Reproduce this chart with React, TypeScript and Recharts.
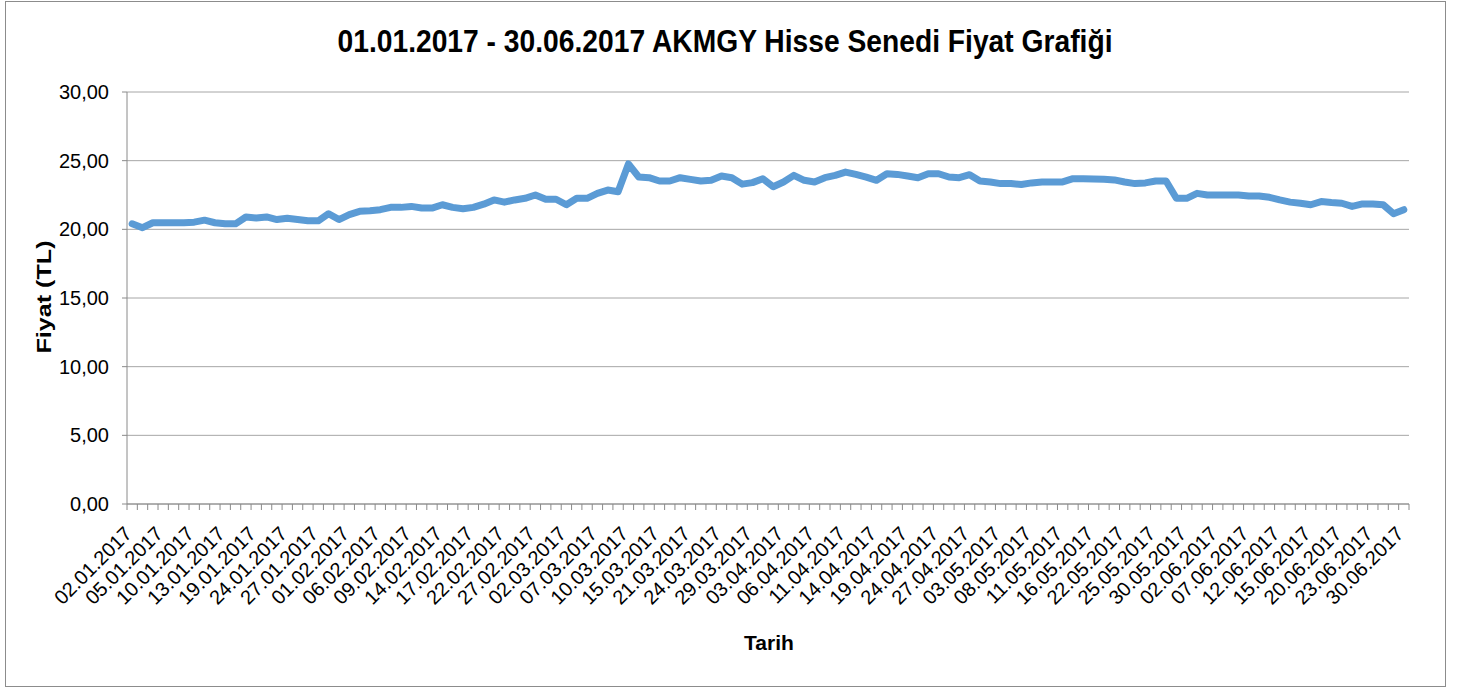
import React from 'react';
import { LineChart, Line, XAxis, YAxis, CartesianGrid } from 'recharts';

const DATES = [
  '02.01.2017', '03.01.2017', '04.01.2017', '05.01.2017', '06.01.2017', '09.01.2017',
  '10.01.2017', '11.01.2017', '12.01.2017', '13.01.2017', '16.01.2017', '17.01.2017',
  '19.01.2017', '20.01.2017', '23.01.2017', '24.01.2017', '25.01.2017', '26.01.2017',
  '27.01.2017', '30.01.2017', '31.01.2017', '01.02.2017', '02.02.2017', '03.02.2017',
  '06.02.2017', '07.02.2017', '08.02.2017', '09.02.2017', '10.02.2017', '13.02.2017',
  '14.02.2017', '15.02.2017', '16.02.2017', '17.02.2017', '20.02.2017', '21.02.2017',
  '22.02.2017', '23.02.2017', '24.02.2017', '27.02.2017', '28.02.2017', '01.03.2017',
  '02.03.2017', '03.03.2017', '06.03.2017', '07.03.2017', '08.03.2017', '09.03.2017',
  '10.03.2017', '13.03.2017', '14.03.2017', '15.03.2017', '16.03.2017', '17.03.2017',
  '21.03.2017', '22.03.2017', '23.03.2017', '24.03.2017', '27.03.2017', '28.03.2017',
  '29.03.2017', '30.03.2017', '31.03.2017', '03.04.2017', '04.04.2017', '05.04.2017',
  '06.04.2017', '07.04.2017', '10.04.2017', '11.04.2017', '12.04.2017', '13.04.2017',
  '14.04.2017', '17.04.2017', '18.04.2017', '19.04.2017', '20.04.2017', '21.04.2017',
  '24.04.2017', '25.04.2017', '26.04.2017', '27.04.2017', '28.04.2017', '02.05.2017',
  '03.05.2017', '04.05.2017', '05.05.2017', '08.05.2017', '09.05.2017', '10.05.2017',
  '11.05.2017', '12.05.2017', '15.05.2017', '16.05.2017', '17.05.2017', '18.05.2017',
  '22.05.2017', '23.05.2017', '24.05.2017', '25.05.2017', '26.05.2017', '29.05.2017',
  '30.05.2017', '31.05.2017', '01.06.2017', '02.06.2017', '05.06.2017', '06.06.2017',
  '07.06.2017', '08.06.2017', '09.06.2017', '12.06.2017', '13.06.2017', '14.06.2017',
  '15.06.2017', '16.06.2017', '19.06.2017', '20.06.2017', '21.06.2017', '22.06.2017',
  '23.06.2017', '28.06.2017', '29.06.2017', '30.06.2017',
];

const PRICES = [
  20.40, 20.12, 20.48, 20.48, 20.48, 20.48, 20.52, 20.67, 20.48, 20.40, 20.40, 20.90,
  20.83, 20.90, 20.71, 20.80, 20.71, 20.62, 20.62, 21.14, 20.71, 21.07, 21.31, 21.36,
  21.43, 21.60, 21.60, 21.67, 21.55, 21.55, 21.79, 21.60, 21.50, 21.60, 21.83, 22.14,
  21.98, 22.14, 22.26, 22.50, 22.19, 22.19, 21.79, 22.26, 22.26, 22.62, 22.86, 22.74,
  24.76, 23.81, 23.76, 23.52, 23.52, 23.76, 23.64, 23.52, 23.57, 23.88, 23.76, 23.29,
  23.40, 23.69, 23.10, 23.45, 23.93, 23.57, 23.45, 23.76, 23.93, 24.17, 24.00, 23.80,
  23.57, 24.05, 24.00, 23.88, 23.76, 24.05, 24.05, 23.81, 23.76, 23.98, 23.52, 23.45,
  23.33, 23.33, 23.26, 23.38, 23.45, 23.45, 23.45, 23.69, 23.69, 23.66, 23.64, 23.60,
  23.45, 23.33, 23.38, 23.52, 23.52, 22.26, 22.26, 22.62, 22.50, 22.50, 22.50, 22.50,
  22.43, 22.43, 22.33, 22.14, 21.98, 21.90, 21.79, 22.02, 21.95, 21.90, 21.67, 21.85,
  21.85, 21.79, 21.14, 21.43,
];

const Y_TICKS = [0, 5, 10, 15, 20, 25, 30];

const data = DATES.map((date, i) => ({ date, price: PRICES[i] }));

const W = 1462;
const H = 687;
const LEFT = 127;
const RIGHT = 53;
const TOP = 92;
const BOTTOM = 183;
const AXIS_Y = H - BOTTOM;
const BAND = (W - LEFT - RIGHT) / DATES.length;
const FONT = "'Liberation Sans', Arial, sans-serif";
const AXIS_GRAY = '#8a8a8a';

const fmt = (v: number) => v.toFixed(2).replace('.', ',');

function DateTick(props: any) {
  const { x, payload } = props;
  const i = payload.index;
  const half = BAND / 2;
  return (
    <g>
      <line x1={x - half} x2={x - half} y1={AXIS_Y} y2={AXIS_Y + 6} stroke={AXIS_GRAY} />
      {i === DATES.length - 1 && (
        <line x1={x + half} x2={x + half} y1={AXIS_Y} y2={AXIS_Y + 6} stroke={AXIS_GRAY} />
      )}
      {i % 3 === 0 && (
        <text
          transform={`translate(${x + 1},${AXIS_Y + 31}) rotate(-45)`}
          textAnchor="end"
          fontSize={20}
          fontFamily={FONT}
          fill="#000"
        >
          {payload.value}
        </text>
      )}
    </g>
  );
}

export default function App() {
  return (
    <div style={{ position: 'absolute', left: 0, top: 0, width: W, height: H, background: '#fff' }}>
      <div
        style={{
          position: 'absolute',
          left: 5,
          top: 1,
          width: 1439,
          height: 684,
          border: '1px solid #8c8c8c',
        }}
      />
      <LineChart
        width={W}
        height={H}
        data={data}
        margin={{ top: TOP, right: RIGHT, left: 0, bottom: 0 }}
        style={{ position: 'absolute', left: 0, top: 0, fontFamily: FONT }}
      >
        <CartesianGrid vertical={false} stroke="#a6a6a6" />
        <XAxis
          dataKey="date"
          interval={0}
          height={BOTTOM}
          padding={{ left: BAND / 2, right: BAND / 2 }}
          tickLine={false}
          axisLine={{ stroke: AXIS_GRAY }}
          tick={<DateTick />}
        />
        <YAxis
          width={LEFT}
          domain={[0, 30]}
          ticks={Y_TICKS}
          tickFormatter={fmt}
          tickSize={5}
          tickMargin={13}
          tickLine={{ stroke: AXIS_GRAY }}
          axisLine={{ stroke: AXIS_GRAY }}
          tick={{ fill: '#000', fontSize: 20, fontFamily: FONT }}
        />
        <Line
          type="linear"
          dataKey="price"
          stroke="#5b9bd5"
          strokeWidth={7}
          strokeLinejoin="round"
          strokeLinecap="round"
          dot={false}
          isAnimationActive={false}
        />
      </LineChart>
      <svg
        width={W}
        height={H}
        style={{ position: 'absolute', left: 0, top: 0, pointerEvents: 'none' }}
      >
        <text
          x={725}
          y={52}
          textAnchor="middle"
          fontSize={32}
          fontWeight="bold"
          fontFamily={FONT}
          textLength={775}
          lengthAdjust="spacingAndGlyphs"
        >
          01.01.2017 - 30.06.2017 AKMGY Hisse Senedi Fiyat Grafiği
        </text>
        <text
          transform="translate(51,297) rotate(-90)"
          textAnchor="middle"
          fontSize={21}
          fontWeight="bold"
          fontFamily={FONT}
          textLength={113}
          lengthAdjust="spacingAndGlyphs"
        >
          Fiyat (TL)
        </text>
        <text
          x={769}
          y={650}
          textAnchor="middle"
          fontSize={21}
          fontWeight="bold"
          fontFamily={FONT}
        >
          Tarih
        </text>
      </svg>
    </div>
  );
}
